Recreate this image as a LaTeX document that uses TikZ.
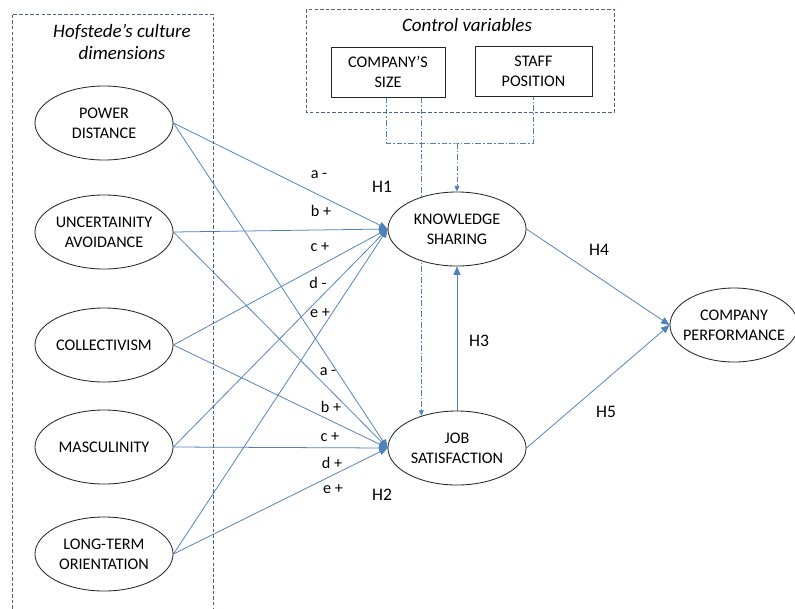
\documentclass[tikz,border=0pt]{standalone}
\usepackage{fontspec}
\setmainfont{Carlito}
\usetikzlibrary{arrows.meta,shapes.geometric,backgrounds}
\definecolor{linkblue}{RGB}{79,129,189}
\definecolor{frameblue}{RGB}{78,98,130}
\tikzset{
  construct/.style={ellipse, draw=black!85, fill=white, line width=0.6pt, inner sep=0pt,
    minimum width=3.45cm, minimum height=1.85cm, align=center,
    font=\fontsize{11.5}{14.2}\selectfont},
  ctrlbox/.style={rectangle, draw=black!85, line width=0.6pt, inner sep=0pt, align=center,
    minimum height=1.25cm, font=\fontsize{11.5}{14.2}\selectfont},
  lbl/.style={inner sep=0pt, font=\fontsize{11.5}{14}\selectfont},
  hyp/.style={inner sep=0pt, font=\fontsize{12.5}{14}\selectfont},
  title/.style={inner sep=0pt, align=center, font=\fontsize{13.5}{16.3}\selectfont\itshape},
  link/.style={-{Triangle[length=6pt,width=5pt]}, linkblue, line width=0.55pt},
  ctrl/.style={linkblue, line width=0.55pt, dash pattern=on 4pt off 1.5pt on 1pt off 1.5pt},
  frame/.style={frameblue, line width=0.5pt, dash pattern=on 2.5pt off 1.5pt}
}
\begin{document}
\begin{tikzpicture}[x=0.025cm, y=-0.025cm]
  \useasboundingbox (0,0) rectangle (795,608);
  % grouping frames
  \draw[frame] (12,620) -- (12,14) -- (213,14) -- (213,620);
  \draw[frame] (306,9) rectangle (614,112);
  \node[title] (hof) at (122,42) {Hofstede’s culture\\dimensions};
  \node[title] (ctv) at (467,25) {Control variables};

  % culture dimensions
  \node[construct] (pd) at (104,123) {POWER\\DISTANCE};
  \node[construct] (ua) at (104,232) {UNCERTAINITY\\AVOIDANCE};
  \node[construct] (col) at (104,345) {COLLECTIVISM};
  \node[construct] (mas) at (104,447) {MASCULINITY};
  \node[construct] (lto) at (104,554) {LONG-TERM\\ORIENTATION};

  % mediators and outcome
  \node[construct] (ks) at (457,229) {KNOWLEDGE\\SHARING};
  \node[construct] (js) at (457,448) {JOB\\SATISFACTION};
  \node[construct, minimum width=3.2cm, inner xsep=-0.17cm] (cp) at (734,325) {COMPANY\\PERFORMANCE};

  % control variables
  \node[ctrlbox, minimum width=2.85cm] (size) at (388,72) {COMPANY’S\\SIZE};
  \node[ctrlbox, minimum width=2.925cm] (staff) at (533.5,71) {STAFF\\POSITION};

  \begin{scope}[on background layer]
    \foreach \src in {pd,ua,col,mas,lto}{
      \draw[link] (\src.east) -- (ks.west);
      \draw[link] (\src.east) -- (js.west);
    }
    \draw[link] (js.north) -- (ks.south);
    \draw[link] (ks.east) -- (cp.west);
    \draw[link] (js.east) -- (cp.west);
    \draw[ctrl] ([xshift=-0.05cm]size.south) |- (457,143) -| (staff.south);
    \draw[ctrl, -{Triangle[length=4pt,width=3.5pt]}] (457,143) -- (ks.north);
    \draw[ctrl, -{Triangle[length=4pt,width=3.5pt]}] (js.138 |- size.south) -- (js.138);
  \end{scope}

  % path signs
  \node[lbl] (a1) at (319,175) {a -};
  \node[lbl] (b1) at (321,211) {b +};
  \node[lbl] (c1) at (320,247) {c +};
  \node[lbl] (d1) at (318,283) {d -};
  \node[lbl] (e1) at (320,313) {e +};
  \node[lbl] (a2) at (328,372) {a -};
  \node[lbl] (b2) at (331,407) {b +};
  \node[lbl] (c2) at (330,437) {c +};
  \node[lbl] (d2) at (332,463) {d +};
  \node[lbl] (e2) at (333,489) {e +};

  % hypotheses
  \node[hyp] (h1) at (382,187) {H1};
  \node[hyp] (h2) at (382,495) {H2};
  \node[hyp] (h3) at (479,341) {H3};
  \node[hyp] (h4) at (599,250) {H4};
  \node[hyp] (h5) at (606,412) {H5};
\end{tikzpicture}
\end{document}
